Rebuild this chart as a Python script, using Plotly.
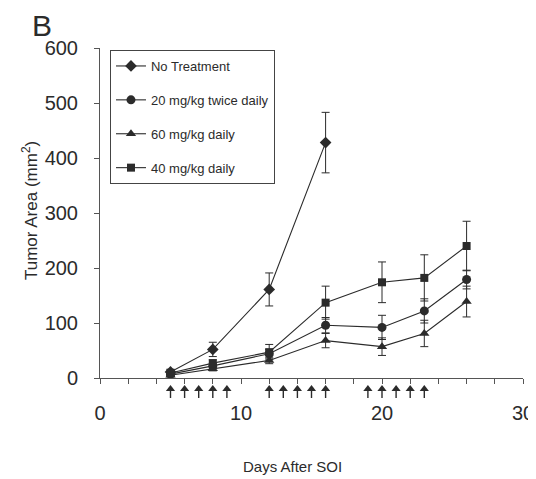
import plotly.graph_objects as go

days = [5, 8, 12, 16, 20, 23, 26]
no_treat_days = [5, 8, 12, 16]
no_treat = [11, 52, 161, 428]
no_treat_err = [5, 13, 30, 55]
bid20 = [7, 22, 44, 96, 92, 122, 179]
bid20_err = [4, 5, 8, 14, 22, 22, 17]
daily60 = [5, 17, 32, 68, 57, 81, 139]
daily60_err = [3, 4, 6, 13, 16, 24, 28]
daily40 = [9, 27, 47, 137, 174, 182, 240]
daily40_err = [4, 6, 14, 30, 37, 42, 45]
dose_days = [5, 6, 7, 8, 9, 12, 13, 14, 15, 16, 19, 20, 21, 22, 23]

FONT = "Liberation Sans Narrow, Arial Narrow, Liberation Sans, Arial, sans-serif"
INK = "#2b2b2b"
AX = "#555"

fig = go.Figure()
series = [
    ("No Treatment", no_treat_days, no_treat, no_treat_err, "diamond", 9),
    ("20 mg/kg twice daily", days, bid20, bid20_err, "circle", 9),
    ("60 mg/kg daily", days, daily60, daily60_err, "triangle-up", 9),
    ("40 mg/kg daily", days, daily40, daily40_err, "square", 8),
]
for i, (name, xs, ys, es, sym, sz) in enumerate(series):
    fig.add_trace(go.Scatter(
        x=xs, y=ys, name=name, mode="lines+markers",
        line=dict(color=INK, width=1.1),
        marker=dict(symbol=sym, size=sz, color=INK),
        error_y=dict(type="data", array=es, color=INK, thickness=1, width=4),
        legendgroup=str(i), cliponaxis=False,
    ))

# dosing arrows in a thin strip under the x axis
fig.add_trace(go.Scatter(
    x=dose_days, y=[-11] * len(dose_days), mode="markers", showlegend=False,
    xaxis="x", yaxis="y2",
    marker=dict(symbol="triangle-up", size=8, color=INK),
    error_y=dict(type="data", symmetric=False, array=[0] * len(dose_days),
                 arrayminus=[9] * len(dose_days), color=INK, thickness=1.4, width=0),
    hoverinfo="skip",
))

fig.add_annotation(x=-0.165, y=1.0593, xref="paper", yref="paper", text="B",
                   showarrow=False, font=dict(family=FONT, size=30, color=INK),
                   xanchor="left", yanchor="middle")
fig.add_annotation(x=0.454, y=-0.129, xref="paper", yref="paper", text="Days After SOI",
                   showarrow=False, font=dict(family=FONT, size=15, color=INK),
                   xanchor="center", yanchor="middle")
fig.add_annotation(x=-0.1655, y=0.5633, xref="paper", yref="paper",
                   text="Tumor Area (mm<sup>2</sup>)", textangle=-90,
                   showarrow=False, font=dict(family=FONT, size=17, color=INK),
                   xanchor="center", yanchor="middle")

fig.update_layout(
    width=528, height=471,
    margin=dict(l=92, r=13, t=40, b=60, autoexpand=False),
    paper_bgcolor="white", plot_bgcolor="rgba(0,0,0,0)",
    font=dict(family=FONT, color=INK),
    showlegend=True,
    legend=dict(x=0.0236, y=0.9946, xanchor="left", yanchor="top",
                bgcolor="white", bordercolor="#444", borderwidth=1,
                font=dict(size=13, family=FONT, color=INK),
                tracegroupgap=14, itemwidth=30),
    xaxis=dict(range=[0, 30], tickvals=[0, 10, 20, 30], ticks="outside",
               ticklen=5, tickcolor=AX, showline=True, linecolor=AX,
               linewidth=1, showgrid=False, zeroline=False, automargin=False,
               anchor="y",
               tickfont=dict(size=20, family=FONT, color=INK),
               ticklabelstandoff=12,
               minor=dict(dtick=2, ticks="outside", ticklen=5, tickcolor=AX, showgrid=False)),
    yaxis=dict(range=[0, 600], dtick=100, ticks="outside", ticklen=5,
               domain=[0.1105, 1],
               tickcolor=AX, showline=True, linecolor=AX, linewidth=1,
               showgrid=False, zeroline=False, automargin=False,
               ticklabelstandoff=12,
               tickfont=dict(size=20, family=FONT, color=INK)),
    yaxis2=dict(range=[-41, 0], domain=[0, 0.1105], anchor="x", visible=False,
                fixedrange=True, showgrid=False, zeroline=False),
)

fig.write_html("out.html")
